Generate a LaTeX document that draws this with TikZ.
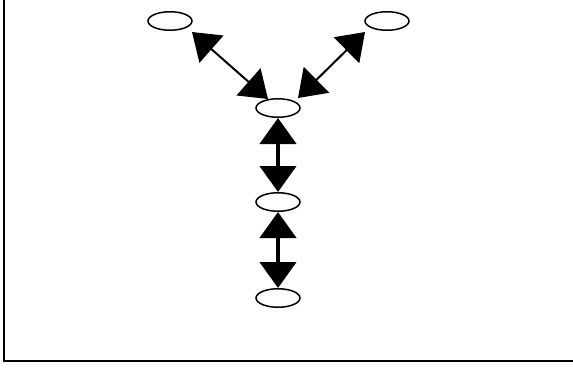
\documentclass[tikz,border=0pt]{standalone}
\usetikzlibrary{arrows.meta,shapes.geometric}
\begin{document}
\begin{tikzpicture}[x=1pt,y=-1pt,
  vnode/.style={draw,ellipse,line width=1.5pt,minimum width=44pt,minimum height=18.5pt,inner sep=0pt},
  biarrow/.style={{Triangle[length=26pt,width=36pt]}-{Triangle[length=26pt,width=36pt]}},
  thinlink/.style={biarrow,line width=2pt},
  thicklink/.style={biarrow,line width=4.5pt}]
\useasboundingbox (0,0) rectangle (573,370);
\draw[line width=2.2pt] (4,-10) -- (4,361) -- (580,361);
\node[vnode] (a) at (170,21) {};
\node[vnode] (b) at (387,21) {};
\node[vnode] (c) at (278,108) {};
\node[vnode] (d) at (278,202) {};
\node[vnode] (e) at (278,298) {};
\draw[thinlink] ([shift={(22,11)}]a.center) -- ([shift={(-10,-9)}]c.center);
\draw[thinlink] ([shift={(-22,11)}]b.center) -- ([shift={(20,-10)}]c.center);
\draw[thicklink] (c) -- (d);
\draw[thicklink] (d) -- (e);
\end{tikzpicture}
\end{document}
